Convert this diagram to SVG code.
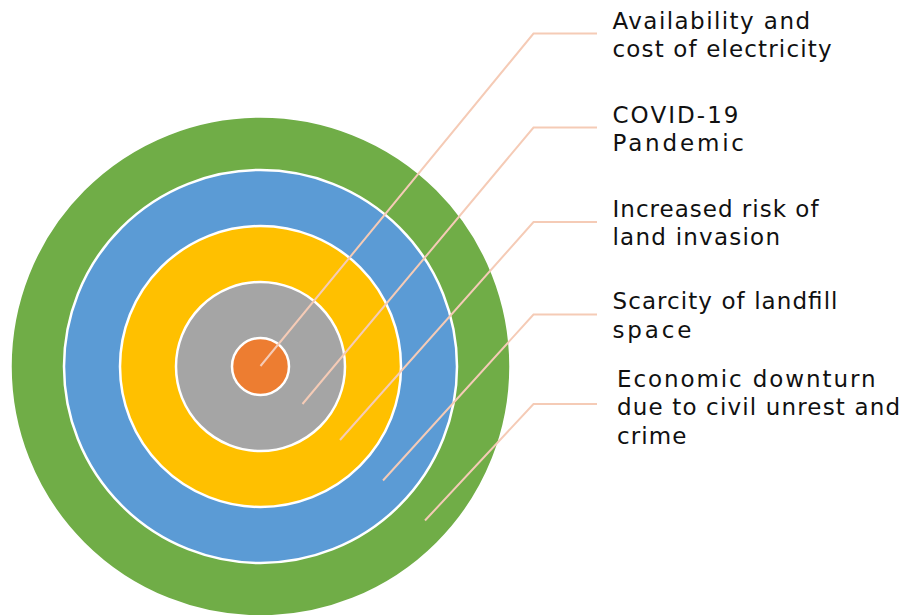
<svg xmlns="http://www.w3.org/2000/svg" width="905" height="615" viewBox="0 0 905 615">
<style>
.ring{stroke:#fff;stroke-width:2.5}
.conn{fill:none;stroke:#F5CBB6;stroke-width:2}
.lbl{font-family:"DejaVu Sans","Liberation Sans",sans-serif;font-size:23px;fill:#111;lengthAdjust:spacing}
</style>
<rect width="905" height="615" fill="#fff"/>
<g id="ring-green"><circle class="ring" cx="260.5" cy="366.5" r="250" fill="#70AD47"/></g>
<g id="ring-blue"><circle class="ring" cx="260.5" cy="366.5" r="196.5" fill="#5B9BD5"/></g>
<g id="ring-yellow"><circle class="ring" cx="260.5" cy="366.5" r="140.5" fill="#FFC000"/></g>
<g id="ring-gray"><circle class="ring" cx="260.5" cy="366.5" r="84.5" fill="#A5A5A5"/></g>
<g id="ring-orange"><circle class="ring" cx="260.5" cy="366.5" r="28.5" fill="#ED7D31"/></g>
<g id="connectors">
<polyline class="conn" points="260.5,366 533.5,33.5 597,33.5"/>
<polyline class="conn" points="302.5,404 533.5,127.5 597,127.5"/>
<polyline class="conn" points="340,440 533.5,222 597,222"/>
<polyline class="conn" points="383,480.5 533.5,314.5 597,314.5"/>
<polyline class="conn" points="425,520.5 533.5,404 597,404"/>
</g>
<g id="label-electricity">
<text class="lbl" x="612.5" y="28.5" textLength="197.5" lengthAdjust="spacing">Availability and</text>
<text class="lbl" x="612.5" y="57" textLength="219" lengthAdjust="spacing">cost of electricity</text>
</g>
<g id="label-covid">
<text class="lbl" x="612.5" y="122.5" textLength="126" lengthAdjust="spacing">COVID-19</text>
<text class="lbl" x="612.5" y="151" textLength="131.5" lengthAdjust="spacing">Pandemic</text>
</g>
<g id="label-land">
<text class="lbl" x="612.5" y="216.5" textLength="206" lengthAdjust="spacing">Increased risk of</text>
<text class="lbl" x="612.5" y="245" textLength="167.5" lengthAdjust="spacing">land invasion</text>
</g>
<g id="label-landfill">
<text class="lbl" x="612.5" y="309" textLength="225" lengthAdjust="spacing">Scarcity of landfill</text>
<text class="lbl" x="612.5" y="337.5" textLength="79" lengthAdjust="spacing">space</text>
</g>
<g id="label-economic">
<text class="lbl" x="617" y="386.5" textLength="258.5" lengthAdjust="spacing">Economic downturn</text>
<text class="lbl" x="617" y="415" textLength="283" lengthAdjust="spacing">due to civil unrest and</text>
<text class="lbl" x="617" y="443.5" textLength="69.5" lengthAdjust="spacing">crime</text>
</g>
</svg>
